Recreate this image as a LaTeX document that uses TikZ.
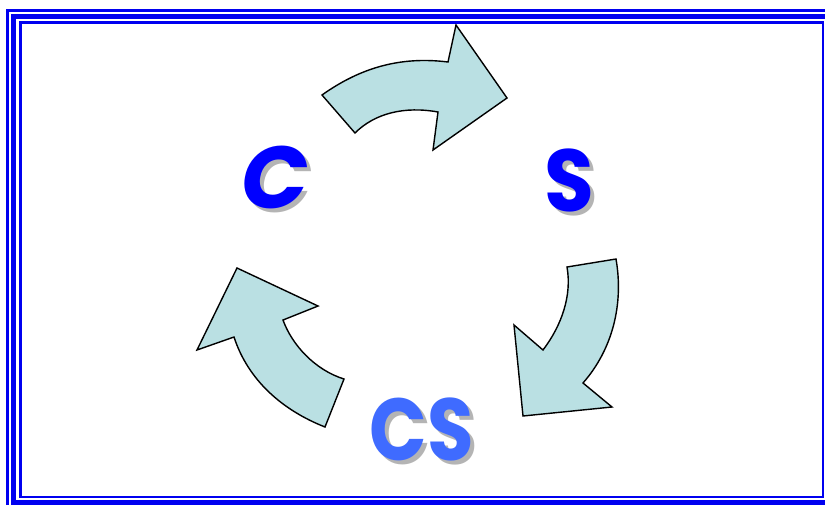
\documentclass[tikz,border=0pt]{standalone}
\usepackage{fontspec}
\setmainfont{Poppins}

\definecolor{framblue}{HTML}{0000F0}
\definecolor{arrowfill}{HTML}{BAE0E3}
\definecolor{letterblue}{HTML}{0000FF}
\definecolor{lightletter}{HTML}{3F6BFF}
\definecolor{shadowgray}{HTML}{B4B4B4}

\begin{document}
\begin{tikzpicture}[x=1pt, y=-1pt]
    \tikzset{
        framestyle/.style={framblue},
        cyclearrow/.style={draw=black, fill=arrowfill, line width=1.4pt, line join=miter},
        letterstyle/.style={font=\fontsize{88}{88}\selectfont\bfseries, inner sep=0pt},
        letshadow/.style={letterstyle, shadowgray}
    }
    \useasboundingbox (0,0) rectangle (825,504);

    % --- cadre ---
    \begin{scope}
        \clip (0,0) rectangle (825,504);
        \draw[framestyle, line width=2.6pt] (7.5,10.5) rectangle (840,520);
        \draw[framestyle, line width=5pt] (13.5,16.5) rectangle (835,502);
        \draw[framestyle, line width=2.4pt] (20.5,22.5) rectangle (823,497);
    \end{scope}

    % --- flèche du haut : C vers S ---
    \draw[cyclearrow] (322,95) .. controls (360,68) and (400,56) .. (448,62)
        -- (456,25) -- (507,98) -- (433,150) -- (438,112)
        .. controls (405,106) and (375,113) .. (355,133) -- cycle;

    % --- flèche de droite : S vers CS ---
    \draw[cyclearrow] (616,259) .. controls (624,305) and (612,350) .. (583,383)
        -- (612,407) -- (523,416) -- (514,325) -- (543,350)
        .. controls (562,325) and (572,295) .. (567,267) -- cycle;

    % --- flèche de gauche : CS vers C ---
    \draw[cyclearrow] (325,427) .. controls (282,410) and (248,380) .. (234,337)
        -- (197,350) -- (237,268) -- (318,306) -- (283,320)
        .. controls (292,345) and (315,370) .. (344,379) -- cycle;

    % --- lettres avec ombre ---
    \node[letshadow, font=\fontsize{88}{88}\selectfont\bfseries\itshape] (cshadow) at (279,181) {C};
    \node[letterstyle, letterblue, font=\fontsize{88}{88}\selectfont\bfseries\itshape] (c) at (275,177) {C};

    \node[letshadow, xscale=0.92] (sshadow) at (573,184) {S};
    \node[letterstyle, letterblue, xscale=0.92] (s) at (569,180) {S};

    \node[letshadow, xscale=0.86] (csshadow) at (426,433) {CS};
    \node[letterstyle, lightletter, xscale=0.86] (cs) at (422,429) {CS};

\end{tikzpicture}
\end{document}
